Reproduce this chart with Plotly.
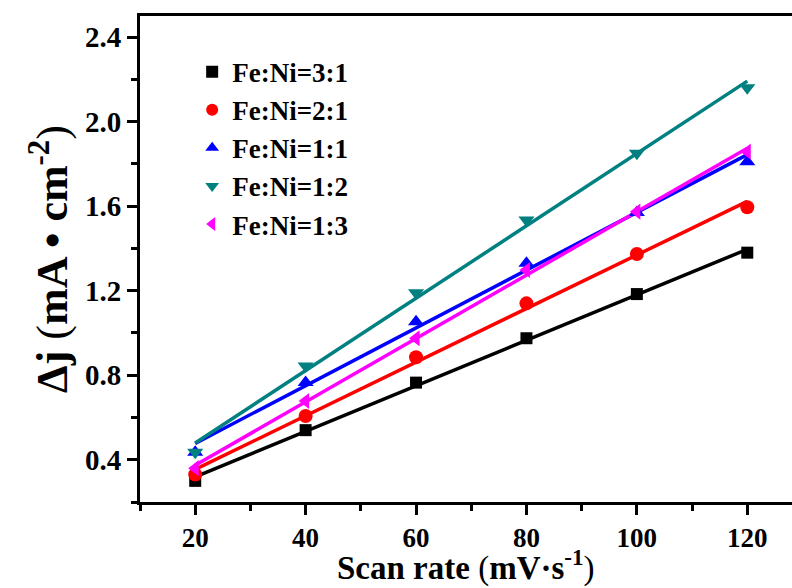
import numpy as np
import plotly.graph_objects as go

scan_rate = [20, 40, 60, 80, 100, 120]
series_names = ["Fe:Ni=3:1", "Fe:Ni=2:1", "Fe:Ni=1:1", "Fe:Ni=1:2", "Fe:Ni=1:3"]
dj_31 = [0.30, 0.54, 0.765, 0.975, 1.184, 1.38]
dj_21 = [0.33, 0.607, 0.885, 1.14, 1.374, 1.595]
dj_11 = [0.435, 0.765, 1.053, 1.33, 1.57, 1.81]
dj_12 = [0.435, 0.844, 1.19, 1.535, 1.85, 2.16]
dj_13 = [0.36, 0.678, 0.975, 1.298, 1.574, 1.858]
y_ticks = [0.4, 0.8, 1.2, 1.6, 2.0, 2.4]
x_ticks = [20, 40, 60, 80, 100, 120]

series = [dj_31, dj_21, dj_11, dj_12, dj_13]
colors = ["#000000", "#ff0000", "#0000ff", "#008080", "#ff00ff"]
symbols = ["square", "circle", "triangle-up", "triangle-down", "triangle-left"]
sizes = [12, 14, 14, 14, 14]

font_family = "Liberation Serif, Times New Roman, serif"
NW = "<span style='font-weight:normal'>"

fig = go.Figure()
xs = np.array(scan_rate, dtype=float)
for name, ys, c in zip(series_names, series, colors):
    k, b = np.polyfit(xs, np.array(ys), 1)
    fig.add_trace(go.Scatter(x=xs, y=k * xs + b, mode="lines",
                             line=dict(color=c, width=3.5), showlegend=False,
                             hoverinfo="skip"))
for name, ys, c, s, sz in zip(series_names, series, colors, symbols, sizes):
    fig.add_trace(go.Scatter(x=scan_rate, y=ys, mode="markers", name=name,
                             marker=dict(color=c, symbol=s, size=sz, line=dict(width=0))))

fig.update_layout(
    width=792, height=588,
    margin=dict(l=140, r=0, t=16, b=86),
    paper_bgcolor="white", plot_bgcolor="white",
    font=dict(family=font_family, color="black"),
    legend=dict(x=0.08, y=0.935, xanchor="left", yanchor="top",
                font=dict(size=27, family=font_family, weight="bold"),
                bgcolor="rgba(0,0,0,0)", itemsizing="constant",
                tracegroupgap=0),
    showlegend=True,
)
fig.add_annotation(
    text="Scan rate " + NW + "(</span>mV·s<sup>-1</sup>" + NW + ")</span>",
    xref="paper", yref="paper", x=0.5, y=-0.177, xanchor="center", yanchor="bottom",
    showarrow=False, borderpad=0,
    font=dict(size=33, family=font_family, weight="bold", color="black"),
)
fig.update_xaxes(
    range=[10, 128.1], tickvals=x_ticks, showgrid=False, zeroline=False,
    showline=True, linecolor="black", linewidth=3, mirror=True,
    ticks="outside", ticklen=10, tickwidth=2.5, tickcolor="black",
    minor=dict(tickvals=[10, 30, 50, 70, 90, 110], ticks="outside", ticklen=6, tickwidth=2.5, tickcolor="black"),
    tickfont=dict(size=27, family=font_family, weight="bold"),
)
fig.update_yaxes(
    range=[0.2, 2.5], tickvals=y_ticks, ticktext=[f"{v:.1f}" for v in y_ticks],
    showgrid=False, zeroline=False,
    showline=True, linecolor="black", linewidth=3, mirror=False,
    ticks="outside", ticklen=10, tickwidth=2.5, tickcolor="black",
    minor=dict(tickvals=[0.2, 0.6, 1.0, 1.4, 1.8, 2.2], ticks="outside", ticklen=6, tickwidth=2.5, tickcolor="black"),
    tickfont=dict(size=29, family=font_family, weight="bold"),
    title=dict(text="Δj " + NW + "(</span>mA • cm<sup>-2</sup>" + NW + ")</span>", standoff=4,
               font=dict(size=44, family=font_family, weight="bold")),
)
fig.write_html("out.html")
